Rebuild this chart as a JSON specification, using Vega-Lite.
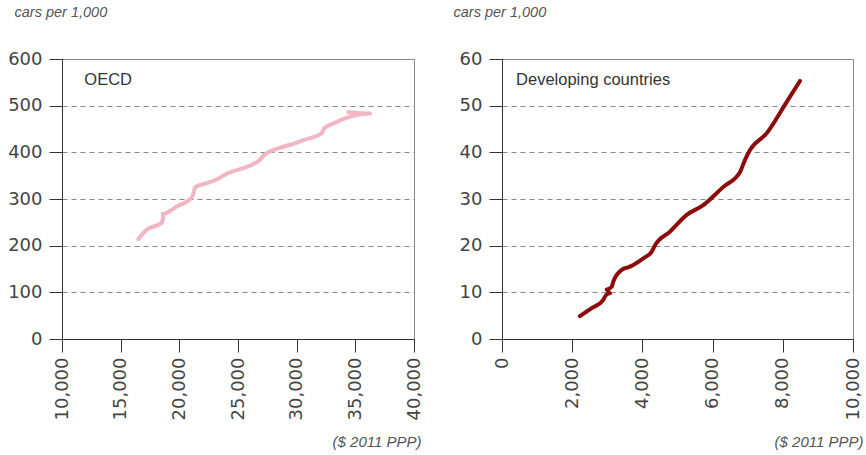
{
  "$schema": "https://vega.github.io/schema/vega-lite/v6.json",
  "padding": {"left": 7, "top": 3, "right": 3, "bottom": 5},
  "background": "white",
  "bounds": "flush",
  "spacing": 88,
  "config": {
    "view": {"stroke": "#888", "strokeWidth": 1},
    "axis": {
      "labelFont": "DejaVu Sans",
      "labelFontSize": 18,
      "labelColor": "#444",
      "tickColor": "#333",
      "domainColor": "#333",
      "tickSize": 13,
      "labelFlush": false,
      "labelOverlap": false,
      "labelBound": false,
      "gridColor": "#888",
      "gridDash": [5, 4],
      "gridWidth": 1,
      "titleFont": "Liberation Sans",
      "titleFontSize": 14.5,
      "titleFontStyle": "italic",
      "titleFontWeight": "normal",
      "titleColor": "#555"
    }
  },
  "datasets": {
    "oecd": [
      {"i": 1, "gdp": 16500, "cars": 214},
      {"i": 2, "gdp": 17220, "cars": 234},
      {"i": 3, "gdp": 18500, "cars": 249},
      {"i": 4, "gdp": 18640, "cars": 259},
      {"i": 5, "gdp": 18580, "cars": 268},
      {"i": 6, "gdp": 19780, "cars": 284},
      {"i": 7, "gdp": 21060, "cars": 304},
      {"i": 8, "gdp": 21250, "cars": 316},
      {"i": 9, "gdp": 21340, "cars": 325},
      {"i": 10, "gdp": 22340, "cars": 334},
      {"i": 11, "gdp": 23190, "cars": 342},
      {"i": 12, "gdp": 24040, "cars": 354},
      {"i": 13, "gdp": 26310, "cars": 375},
      {"i": 14, "gdp": 26880, "cars": 384},
      {"i": 15, "gdp": 27220, "cars": 394},
      {"i": 16, "gdp": 28870, "cars": 412},
      {"i": 17, "gdp": 29720, "cars": 418},
      {"i": 18, "gdp": 30570, "cars": 426},
      {"i": 19, "gdp": 32140, "cars": 441},
      {"i": 20, "gdp": 32340, "cars": 451},
      {"i": 21, "gdp": 33130, "cars": 462},
      {"i": 22, "gdp": 36260, "cars": 483},
      {"i": 23, "gdp": 34400, "cars": 486}
    ],
    "dev": [
      {"i": 1, "gdp": 2220, "cars": 4.9},
      {"i": 2, "gdp": 2555, "cars": 6.6},
      {"i": 3, "gdp": 2886, "cars": 8.4},
      {"i": 4, "gdp": 2963, "cars": 9.4},
      {"i": 5, "gdp": 3077, "cars": 9.8},
      {"i": 6, "gdp": 2982, "cars": 10.6},
      {"i": 7, "gdp": 3125, "cars": 11.2},
      {"i": 8, "gdp": 3171, "cars": 12.3},
      {"i": 9, "gdp": 3410, "cars": 14.8},
      {"i": 10, "gdp": 3647, "cars": 15.5},
      {"i": 11, "gdp": 4026, "cars": 17.3},
      {"i": 12, "gdp": 4265, "cars": 18.7},
      {"i": 13, "gdp": 4359, "cars": 20.1},
      {"i": 14, "gdp": 4786, "cars": 23.0},
      {"i": 15, "gdp": 5262, "cars": 26.6},
      {"i": 16, "gdp": 5735, "cars": 28.7},
      {"i": 17, "gdp": 6305, "cars": 32.6},
      {"i": 18, "gdp": 6781, "cars": 35.8},
      {"i": 19, "gdp": 6923, "cars": 38.4},
      {"i": 20, "gdp": 7066, "cars": 40.5},
      {"i": 21, "gdp": 7541, "cars": 44.1},
      {"i": 22, "gdp": 8111, "cars": 50.8},
      {"i": 23, "gdp": 8490, "cars": 55.3}
    ]
  },
  "hconcat": [
    {
      "width": 352,
      "height": 280,
      "layer": [
        {
          "data": {"name": "oecd"},
          "mark": {"type": "line", "color": "#F2B5C3", "strokeWidth": 4, "strokeCap": "round", "strokeJoin": "round", "interpolate": "monotone"},
          "encoding": {
            "x": {"field": "gdp", "type": "quantitative",
              "scale": {"domain": [10000, 40000], "nice": false, "zero": false},
              "axis": {"values": [10000, 15000, 20000, 25000, 30000, 35000, 40000], "format": ",d", "labelAngle": -90, "labelPadding": 5, "grid": false,
                "title": "($ 2011 PPP)", "titleFontSize": 15, "titleX": 359, "titleY": 102, "titleAlign": "right", "titleBaseline": "middle"}},
            "y": {"field": "cars", "type": "quantitative",
              "scale": {"domain": [0, 600], "nice": false},
              "axis": {"values": [0, 100, 200, 300, 400, 500, 600], "labelPadding": 7, "grid": true,
                "title": "cars per 1,000", "titleAngle": 0, "titleAlign": "left", "titleBaseline": "middle", "titleX": -48, "titleY": -47}},
            "order": {"field": "i"}
          }
        },
        {
          "data": {"values": [{}]},
          "mark": {"type": "text", "align": "left", "baseline": "middle", "fontSize": 16.5, "font": "Liberation Sans", "color": "#333"},
          "encoding": {
            "x": {"datum": 11900, "type": "quantitative"},
            "y": {"datum": 554, "type": "quantitative"},
            "text": {"value": "OECD"}
          }
        }
      ]
    },
    {
      "width": 351,
      "height": 280,
      "layer": [
        {
          "data": {"name": "dev"},
          "mark": {"type": "line", "color": "#8E0B0B", "strokeWidth": 4, "strokeCap": "round", "strokeJoin": "round", "interpolate": "monotone"},
          "encoding": {
            "x": {"field": "gdp", "type": "quantitative",
              "scale": {"domain": [0, 10000], "nice": false},
              "axis": {"values": [0, 2000, 4000, 6000, 8000, 10000], "format": ",d", "labelAngle": -90, "labelPadding": 5, "grid": false,
                "title": "($ 2011 PPP)", "titleFontSize": 15, "titleX": 361, "titleY": 102, "titleAlign": "right", "titleBaseline": "middle"}},
            "y": {"field": "cars", "type": "quantitative",
              "scale": {"domain": [0, 60], "nice": false},
              "axis": {"values": [0, 10, 20, 30, 40, 50, 60], "labelPadding": 7, "grid": true,
                "title": "cars per 1,000", "titleAngle": 0, "titleAlign": "left", "titleBaseline": "middle", "titleX": -49, "titleY": -47}},
            "order": {"field": "i"}
          }
        },
        {
          "data": {"values": [{}]},
          "mark": {"type": "text", "align": "left", "baseline": "middle", "fontSize": 16.5, "font": "Liberation Sans", "color": "#333"},
          "encoding": {
            "x": {"datum": 400, "type": "quantitative"},
            "y": {"datum": 55.4, "type": "quantitative"},
            "text": {"value": "Developing countries"}
          }
        }
      ]
    }
  ]
}
